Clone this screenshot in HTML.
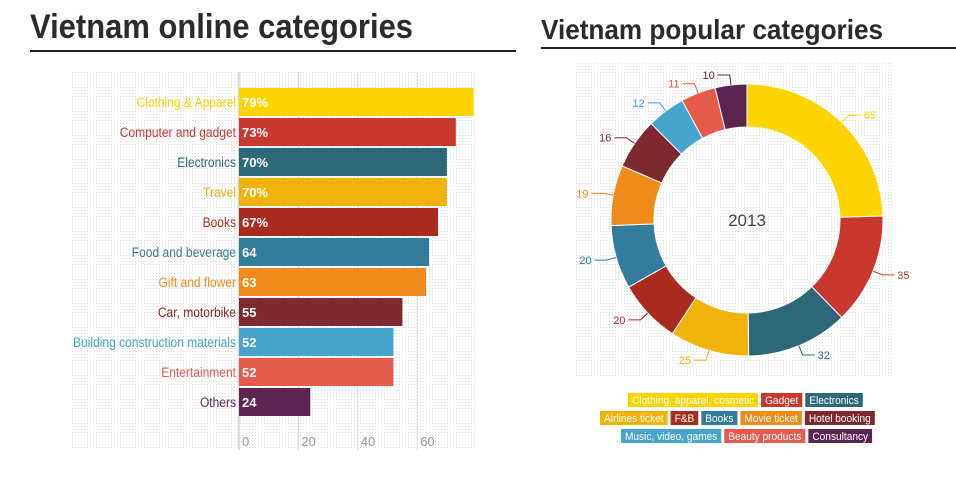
<!DOCTYPE html>
<html><head><meta charset="utf-8"><style>
html,body{margin:0;padding:0;background:#fff;width:956px;height:480px;overflow:hidden}
svg{display:block;font-family:"Liberation Sans",sans-serif}
</style></head><body>
<svg id="s" width="956" height="480" viewBox="0 0 956 480">
<defs>
<pattern id="dots" width="3" height="3" patternUnits="userSpaceOnUse"><rect width="3" height="3" fill="#fff"/><rect width="1" height="1" fill="#dedede"/></pattern>
</defs>
<text x="30" y="38" font-size="34" font-weight="bold" fill="#2b2b2b" textLength="383" lengthAdjust="spacingAndGlyphs">Vietnam online categories</text>
<rect x="30" y="50" width="486" height="2" fill="#222"/>
<text x="541" y="39" font-size="28" font-weight="bold" fill="#2b2b2b" textLength="342" lengthAdjust="spacingAndGlyphs">Vietnam popular categories</text>
<rect x="541" y="47" width="415" height="2" fill="#222"/>
<rect x="70" y="70" width="405" height="380" fill="url(#dots)"/>
<rect x="575" y="62" width="318" height="316" fill="url(#dots)"/>
<g id="bars"></g>
<g id="pie"></g>
<g id="leg"></g>
</svg>
<script>
const NS="http://www.w3.org/2000/svg";
function el(p,t,a,txt){const e=document.createElementNS(NS,t);for(const k in a)e.setAttribute(k,a[k]);if(txt!=null)e.textContent=txt;p.appendChild(e);return e;}
function squeeze(t,f){const w=t.getComputedTextLength()*f;t.setAttribute('textLength',w);t.setAttribute('lengthAdjust','spacingAndGlyphs');return w;}
const B=document.getElementById('bars');
[0,20,40,60].forEach(v=>{const x=239+v*2.97;el(B,'line',{x1:x,y1:72,x2:x,y2:450,stroke:v?'#d8d8d8':'#bbb','stroke-width':1});el(B,'text',{x:x+3,y:446,'font-size':13,fill:'#999'},v);});
const bars=[["Clothing & Apparel","79%",79,"#fdd400"],["Computer and gadget","73%",73,"#c9372f"],["Electronics","70%",70,"#2d6878"],["Travel","70%",70,"#efb30c"],["Books","67%",67,"#a92a1f"],["Food and beverage","64",64,"#347c9c"],["Gift and flower","63",63,"#ef8b1a"],["Car, motorbike","55",55,"#7e2930"],["Building construction materials","52",52,"#47a4cc"],["Entertainment","52",52,"#e45b4b"],["Others","24",24,"#5c2450"]];
bars.forEach((b,i)=>{const y=88+i*30;el(B,'rect',{x:239,y:y,width:b[2]*2.97,height:28,fill:b[3]});
const t=el(B,'text',{x:236,y:y+19,'font-size':13.5,fill:b[3],'text-anchor':'end'},b[0]);squeeze(t,0.89);
el(B,'text',{x:242,y:y+19,'font-size':13,'font-weight':'bold',fill:'#fff'},b[1]);});
const P=document.getElementById('pie');
const data=[[65,"#fdd400"],[35,"#c9372f"],[32,"#2d6878"],[25,"#efb30c"],[20,"#a92a1f"],[20,"#347c9c"],[19,"#ef8b1a"],[16,"#7e2930"],[12,"#47a4cc"],[11,"#e45b4b"],[10,"#5c2450"]];
const cx=747,cy=220,R=136,r=93,tot=265;let a0=0;
function pt(rr,a){return [cx+rr*Math.sin(a),cy-rr*Math.cos(a)];}
data.forEach(d=>{const a1=a0+d[0]/tot*2*Math.PI;const lg=(a1-a0)>Math.PI?1:0;
const p1=pt(R,a0),p2=pt(R,a1),p3=pt(r,a1),p4=pt(r,a0);
el(P,'path',{d:`M${p1}L${p1}A${R},${R} 0 ${lg} 1 ${p2}L${p3}A${r},${r} 0 ${lg} 0 ${p4}Z`,fill:d[1],stroke:'#fff','stroke-width':1});
const m=(a0+a1)/2;const q1=pt(R,m),q2=pt(R+10,m);const right=Math.sin(m)>=0;const x3=q2[0]+(right?12:-12);
el(P,'polyline',{points:`${q1} ${q2} ${x3},${q2[1]}`,fill:'none',stroke:d[1],'stroke-width':1});
el(P,'text',{x:x3+(right?3:-3),y:q2[1]+4,'font-size':11,fill:d[1],'text-anchor':right?'start':'end'},d[0]);
a0=a1;});
el(P,'text',{x:cx,y:cy+6,'font-size':17,fill:'#444','text-anchor':'middle'},"2013");
const L=document.getElementById('leg');
const rows=[[628,393,[["Clothing, apparel, cosmetic","#fdd400"],["Gadget","#c9372f"],["Electronics","#2d6878"]]],
[600,411,[["Airlines ticket","#efb30c"],["F&B","#a92a1f"],["Books","#347c9c"],["Movie ticket","#ef8b1a"],["Hotel booking","#7e2930"]]],
[621,429,[["Music, video, games","#47a4cc"],["Beauty products","#e45b4b"],["Consultancy","#5c2450"]]]];
rows.forEach(rw=>{let x=rw[0];rw[2].forEach(it=>{const t=el(L,'text',{x:x+4,y:rw[1]+11,'font-size':11,fill:'#fff'},it[0]);const w=squeeze(t,0.92);
const rc=el(L,'rect',{x:x,y:rw[1],width:w+8,height:14,fill:it[1]});L.insertBefore(rc,t);x+=w+11;});});
</script>
</body></html>
